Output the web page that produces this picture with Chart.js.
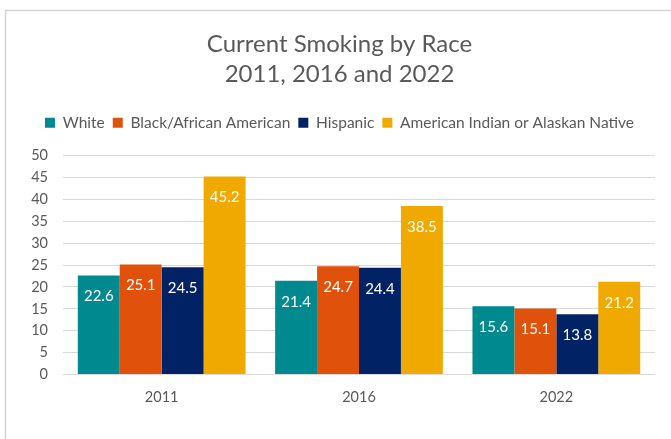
<!DOCTYPE html>
<html>
<head>
<meta charset="utf-8">
<script src="https://cdn.jsdelivr.net/npm/chart.js@4/dist/chart.umd.min.js"></script>
<style>
  html, body { margin: 0; padding: 0; background: #ffffff; }
  #wrap { position: absolute; left: 0; top: 0; width: 671px; height: 439px; }
</style>
</head>
<body>
<div id="wrap"><canvas id="c" width="671" height="439"></canvas></div>
<script>
const categories = ["2011", "2016", "2022"];
const seriesNames = ["White", "Black/African American", "Hispanic", "American Indian or Alaskan Native"];
const white = [22.6, 21.4, 15.6];
const black = [25.1, 24.7, 15.1];
const hispanic = [24.5, 24.4, 13.8];
const aian = [45.2, 38.5, 21.2];
const titleLines = ["Current Smoking by Race", "2011, 2016 and 2022"];

const colors = ["#00898E", "#E0520B", "#022266", "#F0A900"];
const FONT = "Lato, 'Open Sans', sans-serif";

const frame = {
  id: "frame",
  beforeDraw(chart) {
    const ctx = chart.ctx;
    ctx.save();
    ctx.strokeStyle = "#d4d4d4";
    ctx.lineWidth = 1.5;
    ctx.strokeRect(5.5, 10.5, 800, 600);
    ctx.restore();
  }
};

const legendSpace = {
  id: "legendSpace",
  beforeLayout(chart) {
    const lg = chart.legend;
    if (lg && !lg._patched) {
      const orig = lg.fit;
      lg.fit = function () {
        orig.call(this);
        this.height += 15;
      };
      lg._patched = true;
    }
  }
};

const valueLabels = {
  id: "valueLabels",
  afterDatasetsDraw(chart) {
    const ctx = chart.ctx;
    ctx.save();
    ctx.fillStyle = "#ffffff";
    ctx.font = "15px " + FONT;
    ctx.textAlign = "center";
    ctx.textBaseline = "middle";
    chart.data.datasets.forEach((ds, i) => {
      const meta = chart.getDatasetMeta(i);
      meta.data.forEach((bar, j) => {
        ctx.fillText(ds.data[j].toFixed(1), bar.x, bar.y + 21);
      });
    });
    ctx.restore();
  }
};

const seriesData = [white, black, hispanic, aian];

new Chart(document.getElementById("c"), {
  type: "bar",
  data: {
    labels: categories,
    datasets: seriesNames.map((n, i) => ({
      label: n,
      data: seriesData[i],
      backgroundColor: colors[i],
      borderWidth: 0,
      categoryPercentage: 0.85,
      barPercentage: 1.0
    }))
  },
  options: {
    responsive: false,
    animation: false,
    devicePixelRatio: 1,
    layout: { padding: { left: 24, right: 16, top: 29, bottom: 19 } },
    plugins: {
      title: {
        display: true,
        text: titleLines,
        color: "#595959",
        font: { family: FONT, size: 24, weight: "normal", lineHeight: 1.25 },
        padding: { top: 0, bottom: 18 }
      },
      legend: {
        display: true,
        position: "top",
        labels: {
          color: "#595959",
          font: { family: FONT, size: 15.5 },
          boxWidth: 10,
          boxHeight: 10,
          padding: 8
        }
      },
      tooltip: { enabled: false }
    },
    scales: {
      x: {
        grid: { display: false, drawTicks: false },
        border: { display: false },
        ticks: { color: "#595959", font: { family: FONT, size: 14.5 }, padding: 14 }
      },
      y: {
        min: 0,
        max: 50,
        afterFit(scale) { scale.width = 39; },
        grid: { color: "#d9d9d9", lineWidth: 1, drawTicks: false },
        border: { display: false },
        ticks: { stepSize: 5, autoSkip: false, color: "#595959", font: { family: FONT, size: 14.5 }, padding: 15 }
      }
    }
  },
  plugins: [frame, legendSpace, valueLabels]
});
</script>
</body>
</html>
